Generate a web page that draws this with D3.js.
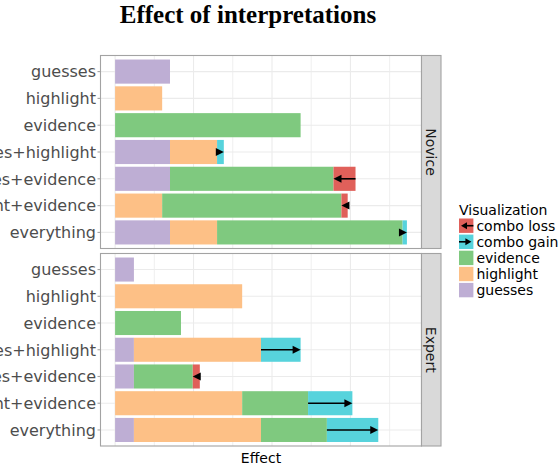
<!DOCTYPE html>
<html><head><meta charset="utf-8">
<script src="https://cdn.jsdelivr.net/npm/d3@7"></script>
<style>body{margin:0;background:#fff}svg{display:block}</style>
</head><body>
<script>
// ---- data ----
const categories = ["guesses","highlight","evidence","guesses+highlight","guesses+evidence","highlight+evidence","everything"];
const groups = ["Novice","Expert"];
const singles = ["guesses","highlight","evidence"];
const noviceIndividual = [0.70, 0.60, 2.365];
const expertIndividual = [0.24, 1.62, 0.84];
const combos = ["guesses+highlight","guesses+evidence","highlight+evidence","everything"];
const comboParts = [["guesses","highlight"],["guesses","evidence"],["highlight","evidence"],["guesses","highlight","evidence"]];
const noviceCombo = [1.386, 2.784, 2.885, 3.72];
const expertCombo = [2.365, 0.99, 3.025, 3.355];
const legendLabels = ["combo loss","combo gain","evidence","highlight","guesses"];
const colors = {"combo loss":"#E0605A","combo gain":"#57D3DC","evidence":"#7FC97F","highlight":"#FDC086","guesses":"#BEAED4"};

const W=560,H=467;
const svg=d3.select("body").append("svg").attr("width",W).attr("height",H);

const pL=100.5,pR=421.5;
const panels=[{g:"Novice",top:55.5,bot:248.5,ind:noviceIndividual,cmb:noviceCombo},
              {g:"Expert",top:253.5,bot:446,ind:expertIndividual,cmb:expertCombo}];
const maxV=d3.max(panels.flatMap(p=>p.cmb.map((v,i)=>Math.max(v,d3.sum(comboParts[i],k=>p.ind[singles.indexOf(k)])))).concat(noviceIndividual,expertIndividual));
const x=d3.scaleLinear().domain([-0.05*maxV,1.05*maxV]).range([pL,pR]);
const gridMajor=[0,1,2,3], gridMinor=[0.5,1.5,2.5,3.5];

// title
svg.append("text").attr("x",248).attr("y",23).attr("text-anchor","middle")
  .attr("font-family","Liberation Serif").attr("font-weight","bold").attr("font-size",25)
  .attr("fill","#000").text("Effect of interpretations");

function arrowHead(g,xTip,y,dir,len,half){
  g.append("path").attr("d",`M${xTip},${y} L${xTip-dir*len},${y-half} L${xTip-dir*len},${y+half} Z`).attr("fill","#000");
}

panels.forEach(p=>{
  const y=d3.scalePoint().domain(categories).range([p.top,p.bot]).padding(0.6);
  const bh=y.step()*0.9;
  const g=svg.append("g");
  g.append("rect").attr("x",pL).attr("y",p.top).attr("width",pR-pL).attr("height",p.bot-p.top).attr("fill","#fff");
  gridMinor.forEach(v=>g.append("line").attr("x1",x(v)).attr("x2",x(v)).attr("y1",p.top).attr("y2",p.bot).attr("stroke","#EBEBEB").attr("stroke-width",0.8));
  gridMajor.forEach(v=>g.append("line").attr("x1",x(v)).attr("x2",x(v)).attr("y1",p.top).attr("y2",p.bot).attr("stroke","#EBEBEB").attr("stroke-width",1.1));
  categories.forEach(c=>g.append("line").attr("x1",pL).attr("x2",pR).attr("y1",y(c)).attr("y2",y(c)).attr("stroke","#EBEBEB").attr("stroke-width",1.1));

  // singles
  singles.forEach((s,i)=>{
    g.append("rect").attr("x",x(0)).attr("y",y(s)-bh/2).attr("width",x(p.ind[i])-x(0)).attr("height",bh).attr("fill",colors[s]);
  });
  // combos
  combos.forEach((c,ci)=>{
    const parts=comboParts[ci];
    const actual=p.cmb[ci];
    let cum=0;
    parts.forEach(k=>{
      const v=p.ind[singles.indexOf(k)];
      const a=Math.min(cum,actual), b=Math.min(cum+v,actual);
      if(b>a) g.append("rect").attr("x",x(a)).attr("y",y(c)-bh/2).attr("width",x(b)-x(a)).attr("height",bh).attr("fill",colors[k]);
      cum+=v;
    });
    const sum=cum;
    const lo=Math.min(sum,actual), hi=Math.max(sum,actual);
    g.append("rect").attr("x",x(lo)).attr("y",y(c)-bh/2).attr("width",x(hi)-x(lo)).attr("height",bh)
      .attr("fill",actual>=sum?colors["combo gain"]:colors["combo loss"]);
    const dir=actual>=sum?1:-1;
    const tip=x(actual), len=8;
    const lineEnd=tip-dir*len*0.6;
    if((lineEnd-x(sum))*dir>0) g.append("line").attr("x1",x(sum)).attr("x2",lineEnd).attr("y1",y(c)).attr("y2",y(c)).attr("stroke","#000").attr("stroke-width",1.6);
    arrowHead(g,tip,y(c),dir,len,4);
  });

  g.append("rect").attr("x",pL).attr("y",p.top).attr("width",pR-pL).attr("height",p.bot-p.top).attr("fill","none").attr("stroke","#A3A3A3").attr("stroke-width",1.1);
  // y ticks + labels
  categories.forEach(c=>{
    g.append("line").attr("x1",pL-3).attr("x2",pL).attr("y1",y(c)).attr("y2",y(c)).attr("stroke","#A3A3A3").attr("stroke-width",1.1);
    g.append("text").attr("x",96).attr("y",y(c)).attr("dy","0.36em").attr("text-anchor","end")
      .attr("font-family","DejaVu Sans").attr("font-size",16).attr("fill","#4D4D4D").text(c);
  });
  // strip
  g.append("rect").attr("x",pR).attr("y",p.top).attr("width",19.5).attr("height",p.bot-p.top).attr("fill","#D9D9D9").attr("stroke","#A3A3A3").attr("stroke-width",1.1);
  const cy=(p.top+p.bot)/2;
  g.append("text").attr("transform",`translate(${pR+9.75},${cy}) rotate(90)`).attr("text-anchor","middle").attr("dy","0.36em")
    .attr("font-family","DejaVu Sans").attr("font-size",14).attr("fill","#1A1A1A").text(p.g);
});

// x axis title
svg.append("text").attr("x",(pL+pR)/2).attr("y",463).attr("text-anchor","middle")
  .attr("font-family","DejaVu Sans").attr("font-size",14).attr("fill","#000").text("Effect");

// legend
const lx=459, ly=218.5, ks=14.4, kstep=16.1;
svg.append("text").attr("x",lx).attr("y",215).attr("font-family","DejaVu Sans").attr("font-size",14).attr("fill","#000").text("Visualization");
legendLabels.forEach((l,i)=>{
  const yy=ly+i*kstep;
  svg.append("rect").attr("x",lx).attr("y",yy).attr("width",ks).attr("height",ks).attr("fill",colors[l]);
  const cy=yy+ks/2;
  if(l==="combo loss"){
    svg.append("line").attr("x1",lx+ks).attr("x2",lx+6).attr("y1",cy).attr("y2",cy).attr("stroke","#000").attr("stroke-width",1.6);
    arrowHead(svg,lx+2,cy,-1,6,3.5);
  } else if(l==="combo gain"){
    svg.append("line").attr("x1",lx).attr("x2",lx+ks-6).attr("y1",cy).attr("y2",cy).attr("stroke","#000").attr("stroke-width",1.6);
    arrowHead(svg,lx+ks-2,cy,1,6,3.5);
  }
  svg.append("text").attr("x",lx+ks+3).attr("y",cy).attr("dy","0.36em").attr("font-family","DejaVu Sans").attr("font-size",14).attr("fill","#000").text(l);
});
</script>
</body></html>
